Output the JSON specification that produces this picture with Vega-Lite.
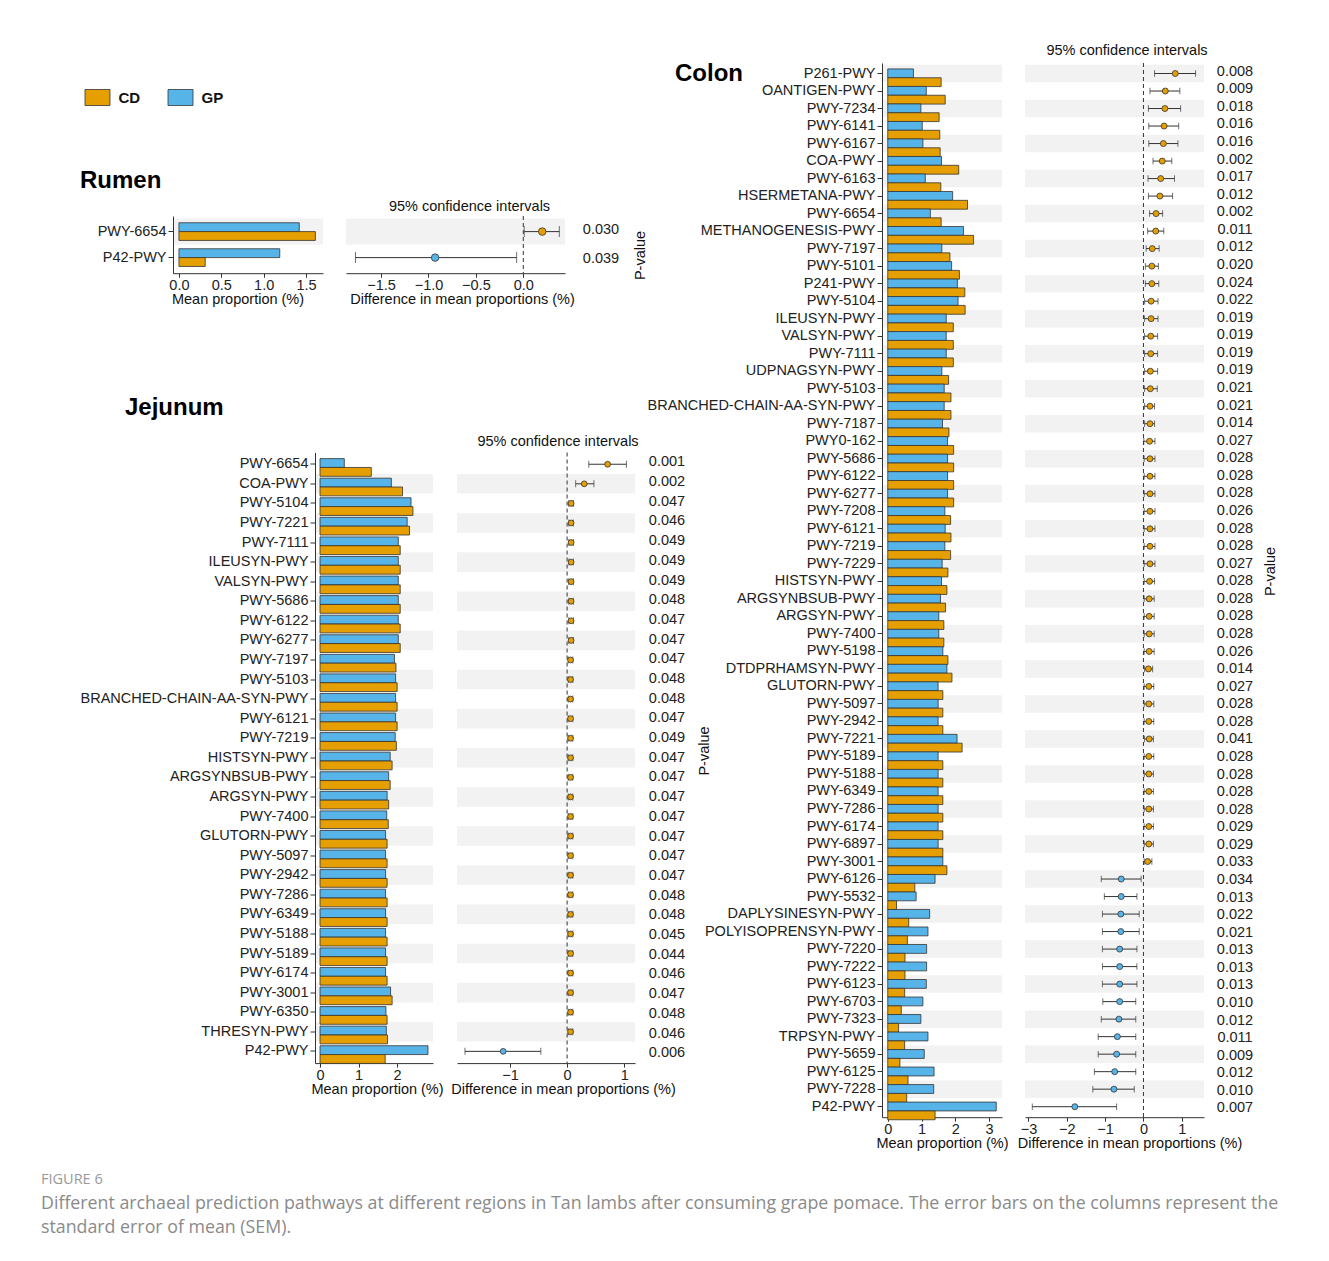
{
"$schema": "https://vega.github.io/schema/vega-lite/v6.json",
"autosize": {"type": "pad"},
"padding": {"left": 41, "top": 42, "right": 5, "bottom": 5},
"title": {"text": "FIGURE 6", "subtitle": ["Different archaeal prediction pathways at different regions in Tan lambs after consuming grape pomace. The error bars on the columns represent the", "standard error of mean (SEM)."], "orient": "bottom", "anchor": "start", "frame": "bounds", "dx": -34, "offset": 23, "font": "Open Sans", "fontSize": 14.5, "fontWeight": "normal", "color": "#9a9a9a", "subtitleFont": "Open Sans", "subtitleFontSize": 17.8, "subtitleColor": "#8a8a8a", "subtitleLineHeight": 24, "subtitlePadding": 7},
"datasets": {
"rumen_bars": [
{"pathway":"PWY-6654","group":"GP","mean":1.42},{"pathway":"PWY-6654","group":"CD","mean":1.61},
{"pathway":"P42-PWY","group":"GP","mean":1.19},{"pathway":"P42-PWY","group":"CD","mean":0.31}],
"rumen_ci": [
{"pathway":"PWY-6654","diff":0.2,"lower":0.01,"upper":0.38,"pvalue":0.030,"group":"CD"},
{"pathway":"P42-PWY","diff":-0.93,"lower":-1.77,"upper":-0.07,"pvalue":0.039,"group":"GP"}],
"jej_bars": [
{"pathway":"PWY-6654","group":"GP","mean":0.63},{"pathway":"PWY-6654","group":"CD","mean":1.33},
{"pathway":"COA-PWY","group":"GP","mean":1.85},{"pathway":"COA-PWY","group":"CD","mean":2.14},
{"pathway":"PWY-5104","group":"GP","mean":2.36},{"pathway":"PWY-5104","group":"CD","mean":2.41},
{"pathway":"PWY-7221","group":"GP","mean":2.26},{"pathway":"PWY-7221","group":"CD","mean":2.32},
{"pathway":"PWY-7111","group":"GP","mean":2.03},{"pathway":"PWY-7111","group":"CD","mean":2.08},
{"pathway":"ILEUSYN-PWY","group":"GP","mean":2.03},{"pathway":"ILEUSYN-PWY","group":"CD","mean":2.08},
{"pathway":"VALSYN-PWY","group":"GP","mean":2.03},{"pathway":"VALSYN-PWY","group":"CD","mean":2.08},
{"pathway":"PWY-5686","group":"GP","mean":2.03},{"pathway":"PWY-5686","group":"CD","mean":2.08},
{"pathway":"PWY-6122","group":"GP","mean":2.03},{"pathway":"PWY-6122","group":"CD","mean":2.08},
{"pathway":"PWY-6277","group":"GP","mean":2.03},{"pathway":"PWY-6277","group":"CD","mean":2.08},
{"pathway":"PWY-7197","group":"GP","mean":1.93},{"pathway":"PWY-7197","group":"CD","mean":1.97},
{"pathway":"PWY-5103","group":"GP","mean":1.96},{"pathway":"PWY-5103","group":"CD","mean":2.0},
{"pathway":"BRANCHED-CHAIN-AA-SYN-PWY","group":"GP","mean":1.96},{"pathway":"BRANCHED-CHAIN-AA-SYN-PWY","group":"CD","mean":2.0},
{"pathway":"PWY-6121","group":"GP","mean":1.96},{"pathway":"PWY-6121","group":"CD","mean":2.0},
{"pathway":"PWY-7219","group":"GP","mean":1.95},{"pathway":"PWY-7219","group":"CD","mean":1.98},
{"pathway":"HISTSYN-PWY","group":"GP","mean":1.82},{"pathway":"HISTSYN-PWY","group":"CD","mean":1.87},
{"pathway":"ARGSYNBSUB-PWY","group":"GP","mean":1.78},{"pathway":"ARGSYNBSUB-PWY","group":"CD","mean":1.82},
{"pathway":"ARGSYN-PWY","group":"GP","mean":1.74},{"pathway":"ARGSYN-PWY","group":"CD","mean":1.78},
{"pathway":"PWY-7400","group":"GP","mean":1.73},{"pathway":"PWY-7400","group":"CD","mean":1.77},
{"pathway":"GLUTORN-PWY","group":"GP","mean":1.7},{"pathway":"GLUTORN-PWY","group":"CD","mean":1.74},
{"pathway":"PWY-5097","group":"GP","mean":1.7},{"pathway":"PWY-5097","group":"CD","mean":1.74},
{"pathway":"PWY-2942","group":"GP","mean":1.7},{"pathway":"PWY-2942","group":"CD","mean":1.74},
{"pathway":"PWY-7286","group":"GP","mean":1.7},{"pathway":"PWY-7286","group":"CD","mean":1.74},
{"pathway":"PWY-6349","group":"GP","mean":1.7},{"pathway":"PWY-6349","group":"CD","mean":1.74},
{"pathway":"PWY-5188","group":"GP","mean":1.7},{"pathway":"PWY-5188","group":"CD","mean":1.74},
{"pathway":"PWY-5189","group":"GP","mean":1.7},{"pathway":"PWY-5189","group":"CD","mean":1.74},
{"pathway":"PWY-6174","group":"GP","mean":1.7},{"pathway":"PWY-6174","group":"CD","mean":1.74},
{"pathway":"PWY-3001","group":"GP","mean":1.83},{"pathway":"PWY-3001","group":"CD","mean":1.87},
{"pathway":"PWY-6350","group":"GP","mean":1.71},{"pathway":"PWY-6350","group":"CD","mean":1.74},
{"pathway":"THRESYN-PWY","group":"GP","mean":1.72},{"pathway":"THRESYN-PWY","group":"CD","mean":1.75},
{"pathway":"P42-PWY","group":"GP","mean":2.8},{"pathway":"P42-PWY","group":"CD","mean":1.69}],
"jej_ci": [
{"pathway":"PWY-6654","diff":0.71,"lower":0.38,"upper":1.04,"pvalue":0.001,"group":"CD"},
{"pathway":"COA-PWY","diff":0.3,"lower":0.15,"upper":0.47,"pvalue":0.002,"group":"CD"},
{"pathway":"PWY-5104","diff":0.07,"lower":0.03,"upper":0.11,"pvalue":0.047,"group":"CD"},
{"pathway":"PWY-7221","diff":0.07,"lower":0.03,"upper":0.11,"pvalue":0.046,"group":"CD"},
{"pathway":"PWY-7111","diff":0.07,"lower":0.03,"upper":0.11,"pvalue":0.049,"group":"CD"},
{"pathway":"ILEUSYN-PWY","diff":0.07,"lower":0.03,"upper":0.11,"pvalue":0.049,"group":"CD"},
{"pathway":"VALSYN-PWY","diff":0.07,"lower":0.03,"upper":0.11,"pvalue":0.049,"group":"CD"},
{"pathway":"PWY-5686","diff":0.07,"lower":0.03,"upper":0.11,"pvalue":0.048,"group":"CD"},
{"pathway":"PWY-6122","diff":0.07,"lower":0.03,"upper":0.11,"pvalue":0.047,"group":"CD"},
{"pathway":"PWY-6277","diff":0.07,"lower":0.03,"upper":0.11,"pvalue":0.047,"group":"CD"},
{"pathway":"PWY-7197","diff":0.06,"lower":0.02,"upper":0.1,"pvalue":0.047,"group":"CD"},
{"pathway":"PWY-5103","diff":0.06,"lower":0.02,"upper":0.1,"pvalue":0.048,"group":"CD"},
{"pathway":"BRANCHED-CHAIN-AA-SYN-PWY","diff":0.06,"lower":0.02,"upper":0.1,"pvalue":0.048,"group":"CD"},
{"pathway":"PWY-6121","diff":0.06,"lower":0.02,"upper":0.1,"pvalue":0.047,"group":"CD"},
{"pathway":"PWY-7219","diff":0.06,"lower":0.02,"upper":0.1,"pvalue":0.049,"group":"CD"},
{"pathway":"HISTSYN-PWY","diff":0.06,"lower":0.02,"upper":0.1,"pvalue":0.047,"group":"CD"},
{"pathway":"ARGSYNBSUB-PWY","diff":0.06,"lower":0.02,"upper":0.1,"pvalue":0.047,"group":"CD"},
{"pathway":"ARGSYN-PWY","diff":0.06,"lower":0.02,"upper":0.1,"pvalue":0.047,"group":"CD"},
{"pathway":"PWY-7400","diff":0.06,"lower":0.02,"upper":0.1,"pvalue":0.047,"group":"CD"},
{"pathway":"GLUTORN-PWY","diff":0.06,"lower":0.02,"upper":0.1,"pvalue":0.047,"group":"CD"},
{"pathway":"PWY-5097","diff":0.06,"lower":0.02,"upper":0.1,"pvalue":0.047,"group":"CD"},
{"pathway":"PWY-2942","diff":0.06,"lower":0.02,"upper":0.1,"pvalue":0.047,"group":"CD"},
{"pathway":"PWY-7286","diff":0.06,"lower":0.02,"upper":0.1,"pvalue":0.048,"group":"CD"},
{"pathway":"PWY-6349","diff":0.06,"lower":0.02,"upper":0.1,"pvalue":0.048,"group":"CD"},
{"pathway":"PWY-5188","diff":0.06,"lower":0.02,"upper":0.1,"pvalue":0.045,"group":"CD"},
{"pathway":"PWY-5189","diff":0.06,"lower":0.02,"upper":0.1,"pvalue":0.044,"group":"CD"},
{"pathway":"PWY-6174","diff":0.06,"lower":0.02,"upper":0.1,"pvalue":0.046,"group":"CD"},
{"pathway":"PWY-3001","diff":0.06,"lower":0.02,"upper":0.1,"pvalue":0.047,"group":"CD"},
{"pathway":"PWY-6350","diff":0.06,"lower":0.02,"upper":0.1,"pvalue":0.048,"group":"CD"},
{"pathway":"THRESYN-PWY","diff":0.06,"lower":0.02,"upper":0.1,"pvalue":0.046,"group":"CD"},
{"pathway":"P42-PWY","diff":-1.12,"lower":-1.79,"upper":-0.46,"pvalue":0.006,"group":"GP"}],
"colon_bars": [
{"pathway":"P261-PWY","group":"GP","mean":0.76},{"pathway":"P261-PWY","group":"CD","mean":1.58},
{"pathway":"OANTIGEN-PWY","group":"GP","mean":1.14},{"pathway":"OANTIGEN-PWY","group":"CD","mean":1.7},
{"pathway":"PWY-7234","group":"GP","mean":0.98},{"pathway":"PWY-7234","group":"CD","mean":1.52},
{"pathway":"PWY-6141","group":"GP","mean":1.02},{"pathway":"PWY-6141","group":"CD","mean":1.54},
{"pathway":"PWY-6167","group":"GP","mean":1.04},{"pathway":"PWY-6167","group":"CD","mean":1.55},
{"pathway":"COA-PWY","group":"GP","mean":1.59},{"pathway":"COA-PWY","group":"CD","mean":2.1},
{"pathway":"PWY-6163","group":"GP","mean":1.11},{"pathway":"PWY-6163","group":"CD","mean":1.57},
{"pathway":"HSERMETANA-PWY","group":"GP","mean":1.92},{"pathway":"HSERMETANA-PWY","group":"CD","mean":2.36},
{"pathway":"PWY-6654","group":"GP","mean":1.26},{"pathway":"PWY-6654","group":"CD","mean":1.58},
{"pathway":"METHANOGENESIS-PWY","group":"GP","mean":2.24},{"pathway":"METHANOGENESIS-PWY","group":"CD","mean":2.54},
{"pathway":"PWY-7197","group":"GP","mean":1.6},{"pathway":"PWY-7197","group":"CD","mean":1.84},
{"pathway":"PWY-5101","group":"GP","mean":1.89},{"pathway":"PWY-5101","group":"CD","mean":2.12},
{"pathway":"P241-PWY","group":"GP","mean":2.06},{"pathway":"P241-PWY","group":"CD","mean":2.28},
{"pathway":"PWY-5104","group":"GP","mean":2.08},{"pathway":"PWY-5104","group":"CD","mean":2.29},
{"pathway":"ILEUSYN-PWY","group":"GP","mean":1.73},{"pathway":"ILEUSYN-PWY","group":"CD","mean":1.94},
{"pathway":"VALSYN-PWY","group":"GP","mean":1.73},{"pathway":"VALSYN-PWY","group":"CD","mean":1.94},
{"pathway":"PWY-7111","group":"GP","mean":1.73},{"pathway":"PWY-7111","group":"CD","mean":1.94},
{"pathway":"UDPNAGSYN-PWY","group":"GP","mean":1.6},{"pathway":"UDPNAGSYN-PWY","group":"CD","mean":1.8},
{"pathway":"PWY-5103","group":"GP","mean":1.67},{"pathway":"PWY-5103","group":"CD","mean":1.87},
{"pathway":"BRANCHED-CHAIN-AA-SYN-PWY","group":"GP","mean":1.67},{"pathway":"BRANCHED-CHAIN-AA-SYN-PWY","group":"CD","mean":1.87},
{"pathway":"PWY-7187","group":"GP","mean":1.62},{"pathway":"PWY-7187","group":"CD","mean":1.81},
{"pathway":"PWY0-162","group":"GP","mean":1.77},{"pathway":"PWY0-162","group":"CD","mean":1.95},
{"pathway":"PWY-5686","group":"GP","mean":1.77},{"pathway":"PWY-5686","group":"CD","mean":1.95},
{"pathway":"PWY-6122","group":"GP","mean":1.77},{"pathway":"PWY-6122","group":"CD","mean":1.95},
{"pathway":"PWY-6277","group":"GP","mean":1.77},{"pathway":"PWY-6277","group":"CD","mean":1.95},
{"pathway":"PWY-7208","group":"GP","mean":1.69},{"pathway":"PWY-7208","group":"CD","mean":1.86},
{"pathway":"PWY-6121","group":"GP","mean":1.7},{"pathway":"PWY-6121","group":"CD","mean":1.87},
{"pathway":"PWY-7219","group":"GP","mean":1.69},{"pathway":"PWY-7219","group":"CD","mean":1.86},
{"pathway":"PWY-7229","group":"GP","mean":1.61},{"pathway":"PWY-7229","group":"CD","mean":1.78},
{"pathway":"HISTSYN-PWY","group":"GP","mean":1.59},{"pathway":"HISTSYN-PWY","group":"CD","mean":1.75},
{"pathway":"ARGSYNBSUB-PWY","group":"GP","mean":1.56},{"pathway":"ARGSYNBSUB-PWY","group":"CD","mean":1.71},
{"pathway":"ARGSYN-PWY","group":"GP","mean":1.51},{"pathway":"ARGSYN-PWY","group":"CD","mean":1.66},
{"pathway":"PWY-7400","group":"GP","mean":1.51},{"pathway":"PWY-7400","group":"CD","mean":1.66},
{"pathway":"PWY-5198","group":"GP","mean":1.63},{"pathway":"PWY-5198","group":"CD","mean":1.78},
{"pathway":"DTDPRHAMSYN-PWY","group":"GP","mean":1.75},{"pathway":"DTDPRHAMSYN-PWY","group":"CD","mean":1.9},
{"pathway":"GLUTORN-PWY","group":"GP","mean":1.49},{"pathway":"GLUTORN-PWY","group":"CD","mean":1.63},
{"pathway":"PWY-5097","group":"GP","mean":1.49},{"pathway":"PWY-5097","group":"CD","mean":1.63},
{"pathway":"PWY-2942","group":"GP","mean":1.49},{"pathway":"PWY-2942","group":"CD","mean":1.63},
{"pathway":"PWY-7221","group":"GP","mean":2.05},{"pathway":"PWY-7221","group":"CD","mean":2.2},
{"pathway":"PWY-5189","group":"GP","mean":1.49},{"pathway":"PWY-5189","group":"CD","mean":1.63},
{"pathway":"PWY-5188","group":"GP","mean":1.49},{"pathway":"PWY-5188","group":"CD","mean":1.63},
{"pathway":"PWY-6349","group":"GP","mean":1.49},{"pathway":"PWY-6349","group":"CD","mean":1.63},
{"pathway":"PWY-7286","group":"GP","mean":1.49},{"pathway":"PWY-7286","group":"CD","mean":1.63},
{"pathway":"PWY-6174","group":"GP","mean":1.49},{"pathway":"PWY-6174","group":"CD","mean":1.63},
{"pathway":"PWY-6897","group":"GP","mean":1.49},{"pathway":"PWY-6897","group":"CD","mean":1.63},
{"pathway":"PWY-3001","group":"GP","mean":1.63},{"pathway":"PWY-3001","group":"CD","mean":1.75},
{"pathway":"PWY-6126","group":"GP","mean":1.4},{"pathway":"PWY-6126","group":"CD","mean":0.8},
{"pathway":"PWY-5532","group":"GP","mean":0.84},{"pathway":"PWY-5532","group":"CD","mean":0.26},
{"pathway":"DAPLYSINESYN-PWY","group":"GP","mean":1.24},{"pathway":"DAPLYSINESYN-PWY","group":"CD","mean":0.62},
{"pathway":"POLYISOPRENSYN-PWY","group":"GP","mean":1.19},{"pathway":"POLYISOPRENSYN-PWY","group":"CD","mean":0.58},
{"pathway":"PWY-7220","group":"GP","mean":1.15},{"pathway":"PWY-7220","group":"CD","mean":0.51},
{"pathway":"PWY-7222","group":"GP","mean":1.15},{"pathway":"PWY-7222","group":"CD","mean":0.51},
{"pathway":"PWY-6123","group":"GP","mean":1.14},{"pathway":"PWY-6123","group":"CD","mean":0.5},
{"pathway":"PWY-6703","group":"GP","mean":1.04},{"pathway":"PWY-6703","group":"CD","mean":0.4},
{"pathway":"PWY-7323","group":"GP","mean":0.98},{"pathway":"PWY-7323","group":"CD","mean":0.32},
{"pathway":"TRPSYN-PWY","group":"GP","mean":1.19},{"pathway":"TRPSYN-PWY","group":"CD","mean":0.5},
{"pathway":"PWY-5659","group":"GP","mean":1.08},{"pathway":"PWY-5659","group":"CD","mean":0.36},
{"pathway":"PWY-6125","group":"GP","mean":1.37},{"pathway":"PWY-6125","group":"CD","mean":0.6},
{"pathway":"PWY-7228","group":"GP","mean":1.36},{"pathway":"PWY-7228","group":"CD","mean":0.56},
{"pathway":"P42-PWY","group":"GP","mean":3.21},{"pathway":"P42-PWY","group":"CD","mean":1.4}],
"colon_ci": [
{"pathway":"P261-PWY","diff":0.83,"lower":0.29,"upper":1.36,"pvalue":0.008,"group":"CD"},
{"pathway":"OANTIGEN-PWY","diff":0.57,"lower":0.17,"upper":0.95,"pvalue":0.009,"group":"CD"},
{"pathway":"PWY-7234","diff":0.56,"lower":0.13,"upper":0.97,"pvalue":0.018,"group":"CD"},
{"pathway":"PWY-6141","diff":0.54,"lower":0.14,"upper":0.92,"pvalue":0.016,"group":"CD"},
{"pathway":"PWY-6167","diff":0.52,"lower":0.14,"upper":0.9,"pvalue":0.016,"group":"CD"},
{"pathway":"COA-PWY","diff":0.49,"lower":0.25,"upper":0.74,"pvalue":0.002,"group":"CD"},
{"pathway":"PWY-6163","diff":0.45,"lower":0.12,"upper":0.81,"pvalue":0.017,"group":"CD"},
{"pathway":"HSERMETANA-PWY","diff":0.43,"lower":0.13,"upper":0.76,"pvalue":0.012,"group":"CD"},
{"pathway":"PWY-6654","diff":0.33,"lower":0.16,"upper":0.5,"pvalue":0.002,"group":"CD"},
{"pathway":"METHANOGENESIS-PWY","diff":0.32,"lower":0.11,"upper":0.53,"pvalue":0.011,"group":"CD"},
{"pathway":"PWY-7197","diff":0.23,"lower":0.07,"upper":0.41,"pvalue":0.012,"group":"CD"},
{"pathway":"PWY-5101","diff":0.22,"lower":0.05,"upper":0.39,"pvalue":0.020,"group":"CD"},
{"pathway":"P241-PWY","diff":0.22,"lower":0.05,"upper":0.4,"pvalue":0.024,"group":"CD"},
{"pathway":"PWY-5104","diff":0.2,"lower":0.03,"upper":0.38,"pvalue":0.022,"group":"CD"},
{"pathway":"ILEUSYN-PWY","diff":0.2,"lower":0.03,"upper":0.38,"pvalue":0.019,"group":"CD"},
{"pathway":"VALSYN-PWY","diff":0.19,"lower":0.03,"upper":0.37,"pvalue":0.019,"group":"CD"},
{"pathway":"PWY-7111","diff":0.19,"lower":0.03,"upper":0.37,"pvalue":0.019,"group":"CD"},
{"pathway":"UDPNAGSYN-PWY","diff":0.18,"lower":0.03,"upper":0.37,"pvalue":0.019,"group":"CD"},
{"pathway":"PWY-5103","diff":0.18,"lower":0.03,"upper":0.36,"pvalue":0.021,"group":"CD"},
{"pathway":"BRANCHED-CHAIN-AA-SYN-PWY","diff":0.17,"lower":0.03,"upper":0.29,"pvalue":0.021,"group":"CD"},
{"pathway":"PWY-7187","diff":0.17,"lower":0.03,"upper":0.29,"pvalue":0.014,"group":"CD"},
{"pathway":"PWY0-162","diff":0.16,"lower":0.01,"upper":0.3,"pvalue":0.027,"group":"CD"},
{"pathway":"PWY-5686","diff":0.17,"lower":0.02,"upper":0.3,"pvalue":0.028,"group":"CD"},
{"pathway":"PWY-6122","diff":0.17,"lower":0.02,"upper":0.3,"pvalue":0.028,"group":"CD"},
{"pathway":"PWY-6277","diff":0.17,"lower":0.02,"upper":0.3,"pvalue":0.028,"group":"CD"},
{"pathway":"PWY-7208","diff":0.17,"lower":0.02,"upper":0.3,"pvalue":0.026,"group":"CD"},
{"pathway":"PWY-6121","diff":0.17,"lower":0.02,"upper":0.3,"pvalue":0.028,"group":"CD"},
{"pathway":"PWY-7219","diff":0.17,"lower":0.02,"upper":0.3,"pvalue":0.028,"group":"CD"},
{"pathway":"PWY-7229","diff":0.17,"lower":0.02,"upper":0.3,"pvalue":0.027,"group":"CD"},
{"pathway":"HISTSYN-PWY","diff":0.16,"lower":0.02,"upper":0.29,"pvalue":0.028,"group":"CD"},
{"pathway":"ARGSYNBSUB-PWY","diff":0.15,"lower":0.02,"upper":0.28,"pvalue":0.028,"group":"CD"},
{"pathway":"ARGSYN-PWY","diff":0.15,"lower":0.02,"upper":0.28,"pvalue":0.028,"group":"CD"},
{"pathway":"PWY-7400","diff":0.15,"lower":0.02,"upper":0.28,"pvalue":0.028,"group":"CD"},
{"pathway":"PWY-5198","diff":0.15,"lower":0.02,"upper":0.28,"pvalue":0.026,"group":"CD"},
{"pathway":"DTDPRHAMSYN-PWY","diff":0.13,"lower":0.03,"upper":0.24,"pvalue":0.014,"group":"CD"},
{"pathway":"GLUTORN-PWY","diff":0.14,"lower":0.02,"upper":0.27,"pvalue":0.027,"group":"CD"},
{"pathway":"PWY-5097","diff":0.14,"lower":0.02,"upper":0.27,"pvalue":0.028,"group":"CD"},
{"pathway":"PWY-2942","diff":0.14,"lower":0.02,"upper":0.27,"pvalue":0.028,"group":"CD"},
{"pathway":"PWY-7221","diff":0.15,"lower":0.03,"upper":0.26,"pvalue":0.041,"group":"CD"},
{"pathway":"PWY-5189","diff":0.14,"lower":0.02,"upper":0.27,"pvalue":0.028,"group":"CD"},
{"pathway":"PWY-5188","diff":0.14,"lower":0.02,"upper":0.26,"pvalue":0.028,"group":"CD"},
{"pathway":"PWY-6349","diff":0.14,"lower":0.02,"upper":0.26,"pvalue":0.028,"group":"CD"},
{"pathway":"PWY-7286","diff":0.14,"lower":0.02,"upper":0.26,"pvalue":0.028,"group":"CD"},
{"pathway":"PWY-6174","diff":0.14,"lower":0.02,"upper":0.26,"pvalue":0.029,"group":"CD"},
{"pathway":"PWY-6897","diff":0.14,"lower":0.02,"upper":0.26,"pvalue":0.029,"group":"CD"},
{"pathway":"PWY-3001","diff":0.11,"lower":0.02,"upper":0.22,"pvalue":0.033,"group":"CD"},
{"pathway":"PWY-6126","diff":-0.58,"lower":-1.1,"upper":-0.06,"pvalue":0.034,"group":"GP"},
{"pathway":"PWY-5532","diff":-0.58,"lower":-1.02,"upper":-0.17,"pvalue":0.013,"group":"GP"},
{"pathway":"DAPLYSINESYN-PWY","diff":-0.59,"lower":-1.07,"upper":-0.11,"pvalue":0.022,"group":"GP"},
{"pathway":"POLYISOPRENSYN-PWY","diff":-0.59,"lower":-1.07,"upper":-0.11,"pvalue":0.021,"group":"GP"},
{"pathway":"PWY-7220","diff":-0.62,"lower":-1.07,"upper":-0.17,"pvalue":0.013,"group":"GP"},
{"pathway":"PWY-7222","diff":-0.62,"lower":-1.07,"upper":-0.17,"pvalue":0.013,"group":"GP"},
{"pathway":"PWY-6123","diff":-0.62,"lower":-1.07,"upper":-0.17,"pvalue":0.013,"group":"GP"},
{"pathway":"PWY-6703","diff":-0.62,"lower":-1.06,"upper":-0.2,"pvalue":0.010,"group":"GP"},
{"pathway":"PWY-7323","diff":-0.64,"lower":-1.1,"upper":-0.2,"pvalue":0.012,"group":"GP"},
{"pathway":"TRPSYN-PWY","diff":-0.68,"lower":-1.18,"upper":-0.2,"pvalue":0.011,"group":"GP"},
{"pathway":"PWY-5659","diff":-0.7,"lower":-1.18,"upper":-0.2,"pvalue":0.009,"group":"GP"},
{"pathway":"PWY-6125","diff":-0.75,"lower":-1.28,"upper":-0.2,"pvalue":0.012,"group":"GP"},
{"pathway":"PWY-7228","diff":-0.77,"lower":-1.32,"upper":-0.24,"pvalue":0.010,"group":"GP"},
{"pathway":"P42-PWY","diff":-1.79,"lower":-2.9,"upper":-0.7,"pvalue":0.007,"group":"GP"}],
"legend_items": [{"group":"CD"},{"group":"GP"}]
},
"spacing": -89,
"hconcat": [
{"spacing": 88.5, "vconcat": [
 {"spacing": 36, "vconcat": [
  {"width": 128, "height": 69, "data": {"name": "legend_items"},
   "encoding": {"x": {"field": "group", "type": "nominal", "scale": {"type": "point", "domain": ["CD","GP"], "padding": 0.271}, "axis": null}},
   "layer": [
    {"mark": {"type": "point", "shape": "M-1.5625,-1H1.5625V1H-1.5625Z", "size": 256, "filled": true, "opacity": 1, "stroke": "#333", "strokeWidth": 0.8},
     "encoding": {"color": {"field": "group", "type": "nominal", "scale": {"domain": ["CD","GP"], "range": ["#E69F00","#56B4E9"]}, "legend": null}}},
    {"mark": {"type": "text", "align": "left", "baseline": "middle", "dx": 21, "fontSize": 15, "fontWeight": "bold", "color": "#111"},
     "encoding": {"text": {"field": "group", "type": "nominal"}}}
   ]},
  {"title": {"text": "Rumen", "anchor": "start", "frame": "bounds", "fontSize": 24, "fontWeight": "bold", "dx": 5, "offset": 6.5, "color": "#000"},
   "bounds": "flush", "spacing": 23,
   "hconcat": [
    {"width": 75, "height": 57.2, "data": {"values": []}, "mark": {"type": "point", "opacity": 0}},
    {"width": 150, "height": 57.2, "layer": [
      {"data": {"name": "rumen_ci"}, "transform": [{"window": [{"op": "row_number", "as": "rn"}]}],
       "mark": {"type": "rect", "fill": "#F2F2F2"},
       "encoding": {"y": {"field": "pathway", "type": "nominal", "sort": null, "scale": {"paddingInner": 0, "paddingOuter": 0.1}, "axis": {"title": null, "minExtent": 98, "labelLimit": 400, "tickSize": 5, "labelPadding": 2}},
        "x": {"value": 0}, "x2": {"value": "width"},
        "opacity": {"condition": {"test": "datum.rn % 2 === 1", "value": 1}, "value": 0}}},
      {"data": {"name": "rumen_bars"}, "mark": {"type": "bar", "stroke": "#333", "strokeWidth": 0.8},
       "encoding": {"y": {"field": "pathway", "type": "nominal", "sort": null, "scale": {"paddingInner": 0, "paddingOuter": 0.1}, "axis": {"title": null, "minExtent": 98, "labelLimit": 400, "tickSize": 5, "labelPadding": 2}},
        "yOffset": {"field": "group", "type": "nominal", "sort": ["GP","CD"], "scale": {"paddingInner": 0, "paddingOuter": 0.47}},
        "x": {"field": "mean", "type": "quantitative", "scale": {"domain": [-0.07, 1.7], "nice": false}, "axis": {"values": [0, 0.5, 1, 1.5], "format": ".1f", "title": "Mean proportion (%)", "titleX": 64.5}},
        "color": {"field": "group", "type": "nominal", "scale": {"domain": ["CD","GP"], "range": ["#E69F00","#56B4E9"]}, "legend": null}}}
    ]},
    {"width": 219, "height": 57.2,
     "title": {"text": "95% confidence intervals", "fontSize": 14.5, "fontWeight": "normal", "dx": 14, "offset": 1, "color": "#111"},
     "layer": [
      {"data": {"name": "rumen_ci"}, "transform": [{"window": [{"op": "row_number", "as": "rn"}]}],
       "mark": {"type": "rect", "fill": "#F2F2F2"},
       "encoding": {"y": {"field": "pathway", "type": "nominal", "sort": null, "scale": {"paddingInner": 0, "paddingOuter": 0.1}, "axis": null},
        "x": {"value": 0}, "x2": {"value": "width"},
        "opacity": {"condition": {"test": "datum.rn % 2 === 1", "value": 1}, "value": 0}}},
      {"data": {"values": [{}]}, "mark": {"type": "rule", "color": "#333", "strokeDash": [4, 3], "strokeWidth": 1},
       "encoding": {"x": {"datum": 0, "type": "quantitative", "scale": {"domain": [-1.87, 0.44], "nice": false, "zero": false}, "axis": {"values": [-1.5, -1, -0.5, 0], "format": ".1f", "title": "Difference in mean proportions (%)", "titleX": 116}}}},
      {"data": {"name": "rumen_ci"}, "mark": {"type": "rule", "color": "#333", "strokeWidth": 1},
       "encoding": {"y": {"field": "pathway", "type": "nominal", "sort": null, "axis": null}, "x": {"field": "lower", "type": "quantitative", "title": "Difference in mean proportions (%)"}, "x2": {"field": "upper"}}},
      {"data": {"name": "rumen_ci"}, "mark": {"type": "tick", "color": "#333", "thickness": 1, "size": 11},
       "encoding": {"y": {"field": "pathway", "type": "nominal", "sort": null, "axis": null}, "x": {"field": "lower", "type": "quantitative", "title": "Difference in mean proportions (%)"}}},
      {"data": {"name": "rumen_ci"}, "mark": {"type": "tick", "color": "#333", "thickness": 1, "size": 11},
       "encoding": {"y": {"field": "pathway", "type": "nominal", "sort": null, "axis": null}, "x": {"field": "upper", "type": "quantitative", "title": "Difference in mean proportions (%)"}}},
      {"data": {"name": "rumen_ci"}, "mark": {"type": "point", "filled": true, "opacity": 1, "size": 57, "stroke": "#333", "strokeWidth": 0.8},
       "encoding": {"y": {"field": "pathway", "type": "nominal", "sort": null, "axis": null}, "x": {"field": "diff", "type": "quantitative", "title": "Difference in mean proportions (%)"},
        "color": {"field": "group", "type": "nominal", "scale": {"domain": ["CD","GP"], "range": ["#E69F00","#56B4E9"]}, "legend": null}}}
     ]},
    {"width": 26, "height": 57.2, "data": {"name": "rumen_ci"},
     "mark": {"type": "text", "fontSize": 14.5, "color": "#222", "align": "center", "baseline": "middle"},
     "encoding": {"y": {"field": "pathway", "type": "nominal", "sort": null, "scale": {"paddingInner": 0, "paddingOuter": 0.1}, "axis": {"orient": "right", "title": "P-value", "labels": false, "ticks": false, "domain": false, "minExtent": 0, "titlePadding": 19, "titleAngle": 270, "titleBaseline": "top", "titleY": 39}},
      "text": {"field": "pvalue", "type": "quantitative", "format": ".3f"}}}
   ]}
 ]},
 {"title": {"text": "Jejunum", "anchor": "start", "frame": "bounds", "fontSize": 24, "fontWeight": "bold", "dx": 50, "offset": 14.5, "color": "#000"},
  "bounds": "flush", "spacing": 24,
  "hconcat": [
   {"width": 216, "height": 610.6, "data": {"values": []}, "mark": {"type": "point", "opacity": 0}},
   {"width": 118, "height": 610.6, "layer": [
     {"data": {"name": "jej_ci"}, "transform": [{"window": [{"op": "row_number", "as": "rn"}]}],
      "mark": {"type": "rect", "fill": "#F2F2F2"},
      "encoding": {"y": {"field": "pathway", "type": "nominal", "sort": null, "scale": {"paddingInner": 0, "paddingOuter": 0.1}, "axis": {"title": null, "minExtent": 240, "labelLimit": 400, "tickSize": 5, "labelPadding": 2}},
       "x": {"value": 0}, "x2": {"value": "width"},
       "opacity": {"condition": {"test": "datum.rn % 2 === 0", "value": 1}, "value": 0}}},
     {"data": {"name": "jej_bars"}, "mark": {"type": "bar", "stroke": "#333", "strokeWidth": 0.8},
      "encoding": {"y": {"field": "pathway", "type": "nominal", "sort": null, "scale": {"paddingInner": 0, "paddingOuter": 0.1}, "axis": {"title": null, "minExtent": 240, "labelLimit": 400, "tickSize": 5, "labelPadding": 2}},
       "yOffset": {"field": "group", "type": "nominal", "sort": ["GP","CD"], "scale": {"paddingInner": 0, "paddingOuter": 0.47}},
       "x": {"field": "mean", "type": "quantitative", "scale": {"domain": [-0.13, 2.93], "nice": false}, "axis": {"values": [0, 1, 2], "format": "d", "title": "Mean proportion (%)", "titleX": 62}},
       "color": {"field": "group", "type": "nominal", "scale": {"domain": ["CD","GP"], "range": ["#E69F00","#56B4E9"]}, "legend": null}}}
   ]},
   {"width": 178, "height": 610.6,
    "title": {"text": "95% confidence intervals", "fontSize": 14.5, "fontWeight": "normal", "dx": 12, "offset": 2.5, "color": "#111"},
    "layer": [
     {"data": {"name": "jej_ci"}, "transform": [{"window": [{"op": "row_number", "as": "rn"}]}],
      "mark": {"type": "rect", "fill": "#F2F2F2"},
      "encoding": {"y": {"field": "pathway", "type": "nominal", "sort": null, "scale": {"paddingInner": 0, "paddingOuter": 0.1}, "axis": null},
       "x": {"value": 0}, "x2": {"value": "width"},
       "opacity": {"condition": {"test": "datum.rn % 2 === 0", "value": 1}, "value": 0}}},
     {"data": {"values": [{}]}, "mark": {"type": "rule", "color": "#333", "strokeDash": [4, 3], "strokeWidth": 1},
      "encoding": {"x": {"datum": 0, "type": "quantitative", "scale": {"domain": [-1.93, 1.19], "nice": false, "zero": false}, "axis": {"values": [-1, 0, 1], "format": "d", "title": "Difference in mean proportions (%)", "titleX": 106}}}},
     {"data": {"name": "jej_ci"}, "mark": {"type": "rule", "color": "#333", "strokeWidth": 1},
      "encoding": {"y": {"field": "pathway", "type": "nominal", "sort": null, "axis": null}, "x": {"field": "lower", "type": "quantitative", "title": "Difference in mean proportions (%)"}, "x2": {"field": "upper"}}},
     {"data": {"name": "jej_ci"}, "mark": {"type": "tick", "color": "#333", "thickness": 1, "size": 7},
      "encoding": {"y": {"field": "pathway", "type": "nominal", "sort": null, "axis": null}, "x": {"field": "lower", "type": "quantitative", "title": "Difference in mean proportions (%)"}}},
     {"data": {"name": "jej_ci"}, "mark": {"type": "tick", "color": "#333", "thickness": 1, "size": 7},
      "encoding": {"y": {"field": "pathway", "type": "nominal", "sort": null, "axis": null}, "x": {"field": "upper", "type": "quantitative", "title": "Difference in mean proportions (%)"}}},
     {"data": {"name": "jej_ci"}, "mark": {"type": "point", "filled": true, "opacity": 1, "size": 34, "stroke": "#333", "strokeWidth": 0.8},
      "encoding": {"y": {"field": "pathway", "type": "nominal", "sort": null, "axis": null}, "x": {"field": "diff", "type": "quantitative", "title": "Difference in mean proportions (%)"},
       "color": {"field": "group", "type": "nominal", "scale": {"domain": ["CD","GP"], "range": ["#E69F00","#56B4E9"]}, "legend": null}}}
    ]},
   {"width": 16, "height": 610.6, "data": {"name": "jej_ci"},
    "mark": {"type": "text", "fontSize": 14.5, "color": "#222", "align": "center", "baseline": "middle"},
    "encoding": {"y": {"field": "pathway", "type": "nominal", "sort": null, "scale": {"paddingInner": 0, "paddingOuter": 0.1}, "axis": {"orient": "right", "title": "P-value", "labels": false, "ticks": false, "domain": false, "minExtent": 0, "titlePadding": 22, "titleAngle": 270, "titleBaseline": "top", "titleY": 298}},
     "text": {"field": "pvalue", "type": "quantitative", "format": ".3f"}}}
  ]}
]},
{"bounds": "flush", "spacing": 23,
 "hconcat": [
  {"width": 120, "height": 1054.2,
   "title": {"text": "Colon", "anchor": "start", "frame": "group", "dx": -207, "offset": -22.5, "fontSize": 24, "fontWeight": "bold", "color": "#000"},
   "layer": [
    {"data": {"name": "colon_ci"}, "transform": [{"window": [{"op": "row_number", "as": "rn"}]}],
     "mark": {"type": "rect", "fill": "#F2F2F2"},
     "encoding": {"y": {"field": "pathway", "type": "nominal", "sort": null, "scale": {"paddingInner": 0, "paddingOuter": 0.1}, "axis": {"title": null, "minExtent": 260, "labelLimit": 400, "tickSize": 5, "labelPadding": 2}},
      "x": {"value": 0}, "x2": {"value": "width"},
      "opacity": {"condition": {"test": "datum.rn % 2 === 1", "value": 1}, "value": 0}}},
    {"data": {"name": "colon_bars"}, "mark": {"type": "bar", "stroke": "#333", "strokeWidth": 0.8},
     "encoding": {"y": {"field": "pathway", "type": "nominal", "sort": null, "scale": {"paddingInner": 0, "paddingOuter": 0.1}, "axis": {"title": null, "minExtent": 260, "labelLimit": 400, "tickSize": 5, "labelPadding": 2}},
      "yOffset": {"field": "group", "type": "nominal", "sort": ["GP","CD"], "scale": {"paddingInner": 0, "paddingOuter": 0.47}},
      "x": {"field": "mean", "type": "quantitative", "scale": {"domain": [-0.17, 3.38], "nice": false}, "axis": {"values": [0, 1, 2, 3], "format": "d", "title": "Mean proportion (%)", "titleX": 60}},
      "color": {"field": "group", "type": "nominal", "scale": {"domain": ["CD","GP"], "range": ["#E69F00","#56B4E9"]}, "legend": null}}}
  ]},
  {"width": 179, "height": 1054.2,
   "title": {"text": "95% confidence intervals", "fontSize": 14.5, "fontWeight": "normal", "dx": 12.5, "offset": 4.5, "color": "#111"},
   "layer": [
    {"data": {"name": "colon_ci"}, "transform": [{"window": [{"op": "row_number", "as": "rn"}]}],
     "mark": {"type": "rect", "fill": "#F2F2F2"},
     "encoding": {"y": {"field": "pathway", "type": "nominal", "sort": null, "scale": {"paddingInner": 0, "paddingOuter": 0.1}, "axis": null},
      "x": {"value": 0}, "x2": {"value": "width"},
      "opacity": {"condition": {"test": "datum.rn % 2 === 1", "value": 1}, "value": 0}}},
    {"data": {"values": [{}]}, "mark": {"type": "rule", "color": "#333", "strokeDash": [4, 3], "strokeWidth": 1},
     "encoding": {"x": {"datum": 0, "type": "quantitative", "scale": {"domain": [-3.09, 1.58], "nice": false, "zero": false}, "axis": {"values": [-3, -2, -1, 0, 1], "format": "d", "title": "Difference in mean proportions (%)", "titleX": 104.5}}}},
    {"data": {"name": "colon_ci"}, "mark": {"type": "rule", "color": "#333", "strokeWidth": 1},
     "encoding": {"y": {"field": "pathway", "type": "nominal", "sort": null, "axis": null}, "x": {"field": "lower", "type": "quantitative", "title": "Difference in mean proportions (%)"}, "x2": {"field": "upper"}}},
    {"data": {"name": "colon_ci"}, "mark": {"type": "tick", "color": "#333", "thickness": 1, "size": 6.5},
     "encoding": {"y": {"field": "pathway", "type": "nominal", "sort": null, "axis": null}, "x": {"field": "lower", "type": "quantitative", "title": "Difference in mean proportions (%)"}}},
    {"data": {"name": "colon_ci"}, "mark": {"type": "tick", "color": "#333", "thickness": 1, "size": 6.5},
     "encoding": {"y": {"field": "pathway", "type": "nominal", "sort": null, "axis": null}, "x": {"field": "upper", "type": "quantitative", "title": "Difference in mean proportions (%)"}}},
    {"data": {"name": "colon_ci"}, "mark": {"type": "point", "filled": true, "opacity": 1, "size": 36, "stroke": "#333", "strokeWidth": 0.8},
     "encoding": {"y": {"field": "pathway", "type": "nominal", "sort": null, "axis": null}, "x": {"field": "diff", "type": "quantitative", "title": "Difference in mean proportions (%)"},
      "color": {"field": "group", "type": "nominal", "scale": {"domain": ["CD","GP"], "range": ["#E69F00","#56B4E9"]}, "legend": null}}}
   ]},
  {"width": 16, "height": 1054.2, "data": {"name": "colon_ci"},
   "mark": {"type": "text", "fontSize": 14.5, "color": "#222", "align": "center", "baseline": "middle"},
   "encoding": {"y": {"field": "pathway", "type": "nominal", "sort": null, "scale": {"paddingInner": 0, "paddingOuter": 0.1}, "axis": {"orient": "right", "title": "P-value", "labels": false, "ticks": false, "domain": false, "minExtent": 0, "titlePadding": 20, "titleAngle": 270, "titleBaseline": "top", "titleY": 508}},
    "text": {"field": "pvalue", "type": "quantitative", "format": ".3f"}}}
 ]}
],
"config": {
 "font": "Liberation Sans",
 "view": {"stroke": null},
 "axis": {"grid": false, "labelFont": "Liberation Sans", "titleFont": "Liberation Sans", "labelFontSize": 14.5, "titleFontSize": 14.5, "titleFontWeight": "normal", "labelColor": "#222", "titleColor": "#111", "domainColor": "#333", "tickColor": "#333", "tickSize": 4, "labelPadding": 1, "titlePadding": 1},
 "text": {"font": "Liberation Sans"}
}
}
